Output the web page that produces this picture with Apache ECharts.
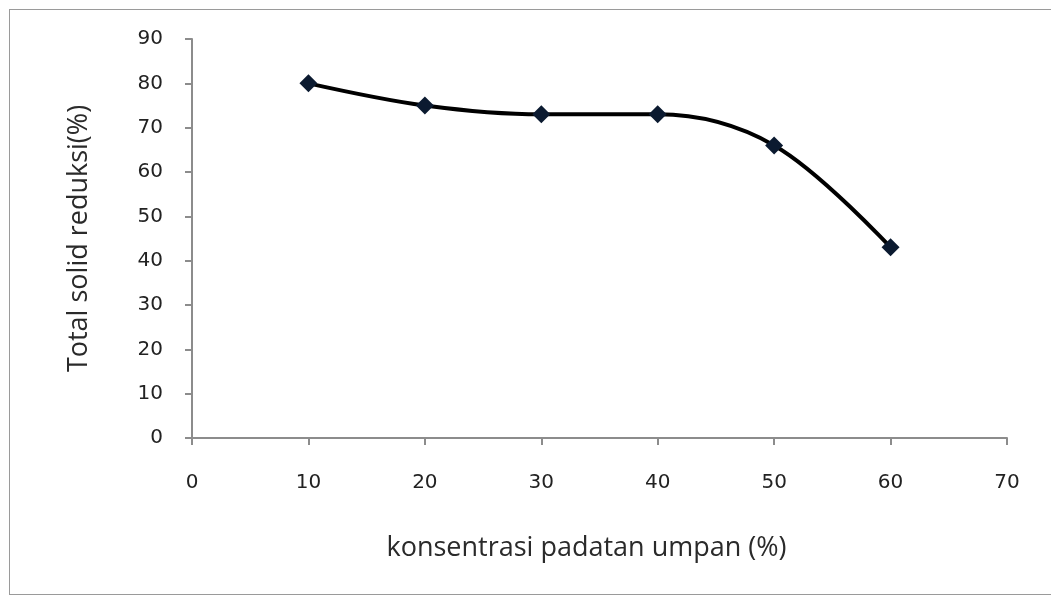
<!DOCTYPE html>
<html>
<head>
<meta charset="utf-8">
<script src="https://cdn.jsdelivr.net/npm/echarts@6/dist/echarts.min.js"></script>
<style>
  html, body { margin: 0; padding: 0; background: #fff; }
  #frame { position: absolute; left: 9px; top: 9px; width: 1050px; height: 586px; border: 1.5px solid #9a9a9a; box-sizing: border-box; }
  #chart { width: 1051px; height: 597px; position: absolute; left: 0; top: 0; }
</style>
</head>
<body>
<div id="frame"></div>
<div id="chart"></div>
<script>
// feed solids concentration (%) and total solids reduction (%)
const konsentrasi = [10, 20, 30, 40, 50, 60];
const reduksi = [80, 75, 73, 73, 66, 43];

const axisGray = '#8c8c8c';
const labelFont = 'DejaVu Sans, Verdana, sans-serif';
const nameFont = 'Open Sans, Liberation Sans, sans-serif';

const chart = echarts.init(document.getElementById('chart'));
chart.setOption({
  backgroundColor: 'transparent',
  animation: false,
  grid: { left: 192, right: 44, top: 39, bottom: 159 },
  xAxis: {
    type: 'value', min: 0, max: 70, interval: 10,
    name: 'konsentrasi padatan umpan (%)',
    nameLocation: 'middle', nameGap: 97,
    nameTextStyle: { fontFamily: nameFont, fontSize: 27, color: '#2a2a2a', padding: [0, 26, 0, 0] },
    axisLine: { lineStyle: { color: axisGray, width: 2 } },
    axisTick: { show: true, length: 7, lineStyle: { color: axisGray, width: 2 } },
    axisLabel: { margin: 35, fontFamily: labelFont, fontSize: 20, color: '#222' },
    splitLine: { show: false }
  },
  yAxis: {
    type: 'value', min: 0, max: 90, interval: 10,
    name: 'Total solid reduksi(%)',
    nameLocation: 'middle', nameGap: 99, nameRotate: 90,
    nameTextStyle: { fontFamily: nameFont, fontSize: 27, color: '#2a2a2a' },
    axisLine: { show: true, lineStyle: { color: axisGray, width: 2 } },
    axisTick: { show: true, length: 7, lineStyle: { color: axisGray, width: 2 } },
    axisLabel: { margin: 29, fontFamily: labelFont, fontSize: 20, color: '#222' },
    splitLine: { show: false }
  },
  series: [{
    type: 'line',
    data: konsentrasi.map((x, i) => [x, reduksi[i]]),
    smooth: 0.35,
    symbol: 'diamond',
    symbolSize: 18,
    itemStyle: { color: '#0b1a30' },
    lineStyle: { color: '#000', width: 4 }
  }]
});
</script>
</body>
</html>
